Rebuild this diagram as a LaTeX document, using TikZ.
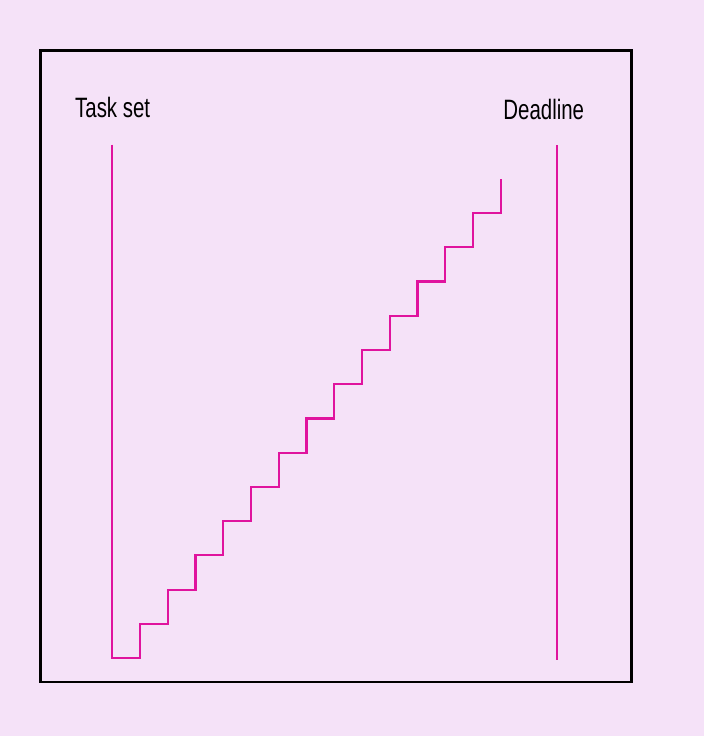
\documentclass[tikz,border=0pt]{standalone}
\usepackage{fontspec}
\setmainfont{Liberation Sans}
\definecolor{bgpink}{HTML}{F5E2F8}
\definecolor{stairmag}{HTML}{E0139E}
\begin{document}
\begin{tikzpicture}[x=1pt,y=-1pt,
  frame/.style={draw=black,line width=2.6pt},
  magline/.style={draw=stairmag,line width=2.2pt},
  lbl/.style={inner sep=0pt,anchor=base west,font=\fontsize{28}{30}\selectfont,xscale=0.73,text=black}]
\fill[bgpink] (0,0) rectangle (704,736);
\useasboundingbox (0,0) rectangle (704,736);
\draw[frame] (40.5,50.2) rectangle (631.7,682);
\node[lbl] (task) at (75,117.3) {Task set};
\node[lbl] (dead) at (503.3,119.3) {Deadline};
\coordinate (ttop) at (112.3,144.5);
\coordinate (tbot) at (112.3,658.1);
\coordinate (dtop) at (556.8,145);
\coordinate (dbot) at (556.8,659.5);
\draw[magline] (dtop) -- (dbot);
\draw[magline,line join=miter] (ttop) -- (tbot)
  \foreach \i in {1,...,14}{
    -- ({112.3+27.74*\i},{658.1-34.24*(\i-1)})
    -- ({112.3+27.74*\i},{658.1-34.24*\i})
  };
\end{tikzpicture}
\end{document}
